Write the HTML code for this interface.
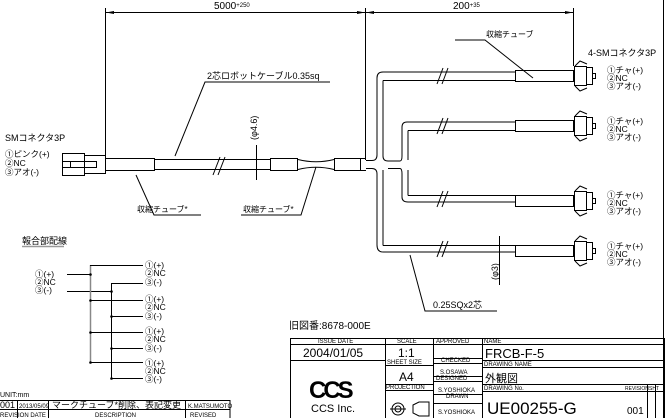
<!DOCTYPE html>
<html><head><meta charset="utf-8"><style>
html,body{margin:0;padding:0;background:#fff;}
svg{display:block;font-family:"Liberation Sans","Noto Sans CJK JP",sans-serif;}
</style></head><body>
<svg width="665" height="418" viewBox="0 0 665 418" xmlns="http://www.w3.org/2000/svg">
<g stroke="#000" stroke-width="1" fill="none">
<line x1="663.5" y1="0" x2="663.5" y2="418"/>
<line x1="105.5" y1="12.5" x2="365" y2="12.5"/>
<line x1="365" y1="12.5" x2="574" y2="12.5"/>
<line x1="105.5" y1="8" x2="105.5" y2="160"/>
<line x1="365.5" y1="8" x2="365.5" y2="160"/>
<line x1="573.5" y1="8" x2="573.5" y2="66"/>
<rect x="62.5" y="153.5" width="22" height="22"/>
<rect x="84.5" y="155.5" width="21" height="18"/>
<rect x="70.5" y="161.5" width="26" height="6"/>
<line x1="62" y1="161.5" x2="70" y2="161.5"/><line x1="62" y1="167.5" x2="70" y2="167.5"/>
<rect x="105.5" y="158.5" width="49" height="12"/>
<line x1="155" y1="159.5" x2="270" y2="159.5"/>
<line x1="155" y1="169.5" x2="270" y2="169.5"/>
<rect x="270.5" y="158.5" width="27" height="12"/>
<path d="M298 159.5 Q316 164 334 159.5 M298 169.5 Q316 165 334 169.5"/>
<path d="M334.5 158.5 L360.5 158.5 L360.5 170.5 L334.5 170.5 Z"/>
<path d="M360.5 158.5 L366 158.5 M360.5 170.5 L366 170.5"/>
<line x1="220" y1="157" x2="213" y2="175"/><line x1="225" y1="157" x2="218" y2="175"/>
<line x1="256.5" y1="145" x2="256.5" y2="180"/>
<path d="M366 160.5 L372 160.5 Q377 160.5 377 155 L377 78 Q377 72 383 72 L515 72"/>
<path d="M383 80.5 L515 80.5"/>
<path d="M383 80.5 L383 156 Q383 161 388 161 L400 161 Q402 161 402 156 L402 127 Q402 122 407 122 L515 122"/>
<path d="M408 130.5 L515 130.5 M408 130.5 L408 160"/>
<path d="M366 168.5 L372 168.5 Q377 168.5 377 174 L377 245 Q377 252 383 252 L515 252"/>
<path d="M383 245.5 L515 245.5 M383 245.5 L383 170"/>
<path d="M388 168.5 L400 168.5 Q402 168.5 402 174 L402 197 Q402 202 408 202 L515 202"/>
<path d="M408 195.5 L515 195.5 M408 195.5 L408 170"/>
<line x1="443" y1="68" x2="437" y2="84"/><line x1="448" y1="68" x2="442" y2="84"/>
<line x1="443" y1="118" x2="437" y2="134"/><line x1="448" y1="118" x2="442" y2="134"/>
<line x1="443" y1="191" x2="437" y2="207"/><line x1="448" y1="191" x2="442" y2="207"/>
<line x1="443" y1="241" x2="437" y2="257"/><line x1="448" y1="241" x2="442" y2="257"/>
<g id="c">
<rect x="515.5" y="70.5" width="58" height="11"/>
<rect x="574.5" y="66.5" width="12" height="19"/>
<rect x="586.5" y="67.5" width="6" height="17"/>
<rect x="592.5" y="73.5" width="3" height="5"/>
<path d="M575 66 L580 61 L587 64 M575 86 L580 91 L587 88"/>
</g>
<use href="#c" y="50"/><use href="#c" y="125"/><use href="#c" y="175"/>
<line x1="499.5" y1="236" x2="499.5" y2="285"/>
<path d="M136 175 L154 215 L201 215"/>
<path d="M316 167 L301 215 L241 215"/>
<path d="M533 78 L485 40 L455 40"/>
<path d="M410 255 L425 311 L497 311"/>
<path d="M175 156 L205 82 L330 82"/>
<line x1="22" y1="246.5" x2="64" y2="246.5" stroke="#999" stroke-width="1.5"/>
<line x1="67" y1="274.5" x2="90" y2="274.5"/>
<line x1="67" y1="291.5" x2="111" y2="291.5"/>
<line x1="90.5" y1="265" x2="90.5" y2="362" stroke="#888" stroke-width="1.5"/>
<line x1="111.5" y1="283" x2="111.5" y2="378"/>
<path d="M90 265.5 H143 M111 283.5 H143 M90 300.5 H143 M111 316.5 H143 M90 332.5 H143 M111 348.5 H143 M90 362.5 H143 M111 378.5 H143"/>
<rect x="-1" y="400.5" width="231" height="20"/>
<line x1="0" y1="409.5" x2="230" y2="409.5"/>
<line x1="17.5" y1="400" x2="17.5" y2="418"/>
<line x1="48.5" y1="400" x2="48.5" y2="418"/>
<line x1="185.5" y1="400" x2="185.5" y2="418"/>
<rect x="290.5" y="338.5" width="374" height="81"/>
<line x1="290" y1="344.5" x2="664" y2="344.5"/>
<line x1="290" y1="360.5" x2="385" y2="360.5"/>
<line x1="385.5" y1="338" x2="385.5" y2="418"/>
<line x1="433.5" y1="338" x2="433.5" y2="418"/>
<line x1="482.5" y1="338" x2="482.5" y2="418"/>
<line x1="385" y1="365.5" x2="433" y2="365.5"/>
<line x1="385" y1="384.5" x2="433" y2="384.5"/>
<line x1="385" y1="390.5" x2="433" y2="390.5"/>
<line x1="433" y1="358.5" x2="482" y2="358.5"/>
<line x1="433" y1="363.5" x2="482" y2="363.5"/>
<line x1="433" y1="376.5" x2="482" y2="376.5"/>
<line x1="433" y1="381.5" x2="482" y2="381.5"/>
<line x1="433" y1="394.5" x2="482" y2="394.5"/>
<line x1="433" y1="403.5" x2="482" y2="403.5"/>
<line x1="482" y1="360.5" x2="664" y2="360.5"/>
<line x1="482" y1="367.5" x2="664" y2="367.5"/>
<line x1="482" y1="384.5" x2="664" y2="384.5"/>
<line x1="482" y1="391.5" x2="664" y2="391.5"/>
<line x1="647.5" y1="384" x2="647.5" y2="418"/>
<line x1="655.5" y1="384" x2="655.5" y2="418"/>
<circle cx="398" cy="409" r="6"/><circle cx="398" cy="409" r="3"/>
<line x1="390" y1="409" x2="406" y2="409"/>
<path d="M413 405 L419 402 L429 402 L429 416 L419 416 L413 413 Z"/>
</g>
<g fill="#000">
<path d="M106 12.5 L114 11 L114 14 Z"/><path d="M365 12.5 L357 11 L357 14 Z"/>
<path d="M366 12.5 L374 11 L374 14 Z"/><path d="M573 12.5 L565 11 L565 14 Z"/>
<circle cx="90.5" cy="274.5" r="1.3"/><circle cx="111.5" cy="291.5" r="1.3"/>
<circle cx="90.5" cy="300.5" r="1.3"/><circle cx="111.5" cy="316.5" r="1.3"/>
<circle cx="90.5" cy="332.5" r="1.3"/><circle cx="111.5" cy="348.5" r="1.3"/>
<circle cx="90.5" cy="362.5" r="1.3"/><circle cx="111.5" cy="378.5" r="1.3"/>
</g>
<g font-size="10" fill="#000">
<text x="214" y="9">5000<tspan font-size="6" dy="-2">+250</tspan></text>
<text x="453" y="9">200<tspan font-size="6" dy="-2">+35</tspan></text>
<text x="207" y="79" font-size="9">2芯ロボットケーブル0.35sq</text>
<text x="257" y="140" font-size="9" transform="rotate(-90 257 140)">(φ4.6)</text>
<text x="5" y="141" font-size="9">SMコネクタ3P</text>
<text x="5" y="157" font-size="8.5">①ピンク(+)</text>
<text x="5" y="166" font-size="8.5">②NC</text>
<text x="5" y="175" font-size="8.5">③アオ(-)</text>
<text x="137" y="212" font-size="8">収縮チューブ*</text>
<text x="243" y="212" font-size="8">収縮チューブ*</text>
<text x="486" y="37" font-size="8">収縮チューブ</text>
<text x="588" y="56" font-size="9">4-SMコネクタ3P</text>
<text x="498" y="280" font-size="9" transform="rotate(-90 498 280)">(φ3)</text>
<text x="433" y="308" font-size="9">0.25SQx2芯</text>
<g font-size="8.5">
<text x="607" y="73">①チャ(+)</text><text x="607" y="81">②NC</text><text x="607" y="89">③アオ(-)</text>
<text x="607" y="124">①チャ(+)</text><text x="607" y="132">②NC</text><text x="607" y="140">③アオ(-)</text>
<text x="607" y="198">①チャ(+)</text><text x="607" y="206">②NC</text><text x="607" y="214">③アオ(-)</text>
<text x="607" y="249">①チャ(+)</text><text x="607" y="257">②NC</text><text x="607" y="265">③アオ(-)</text>
</g>
<text x="22" y="244" font-size="9">報合部配線</text>
<g font-size="8.5">
<text x="35" y="277">①(+)</text><text x="35" y="285">②NC</text><text x="35" y="293">③(-)</text>
<text x="145" y="268">①(+)</text><text x="145" y="276">②NC</text><text x="145" y="285">③(-)</text>
<text x="145" y="302">①(+)</text><text x="145" y="310">②NC</text><text x="145" y="319">③(-)</text>
<text x="145" y="334">①(+)</text><text x="145" y="342">②NC</text><text x="145" y="351">③(-)</text>
<text x="145" y="366">①(+)</text><text x="145" y="374">②NC</text><text x="145" y="382">③(-)</text>
</g>
<text x="0" y="397" font-size="7">UNIT:mm</text>
<text x="0" y="408" font-size="9">001</text>
<text x="19" y="408" font-size="6">2013/05/09</text>
<text x="52" y="408" font-size="9">マークチューブ*削除、表記変更</text>
<text x="188" y="408" font-size="6">K.MATSUMOTO</text>
<text x="0" y="417" font-size="6">REVISION DATE</text>
<text x="95" y="417" font-size="6">DESCRIPTION</text>
<text x="190" y="417" font-size="6">REVISED</text>
<text x="289" y="329" font-size="10">旧図番:8678-000E</text>
<g font-size="6">
<text x="318" y="343">ISSUE DATE</text>
<text x="397" y="343">SCALE</text>
<text x="436" y="343">APPROVED</text>
<text x="484" y="343">NAME</text>
<text x="387" y="364">SHEET SIZE</text>
<text x="441" y="362">CHECKED</text>
<text x="484" y="366">DRAWING  NAME</text>
<text x="436" y="380">DESIGNED</text>
<text x="386" y="389">PROJECTION</text>
<text x="484" y="390">DRAWING No.</text>
<text x="446" y="398">DRAWN</text>
<text x="625" y="390" font-size="5">REVISION</text>
<text x="649" y="390" font-size="5">SHT</text>
<text x="440" y="374">S.OSAWA</text>
<text x="438" y="392">S.YOSHIOKA</text>
<text x="438" y="414">S.YOSHIOKA</text>
</g>
<text x="303" y="357" font-size="12">2004/01/05</text>
<text x="398" y="357" font-size="12">1:1</text>
<text x="485" y="358" font-size="13">FRCB-F-5</text>
<text x="399" y="381" font-size="12">A4</text>
<text x="485" y="382" font-size="11">外観図</text>
<text x="487" y="414" font-size="17">UE00255-G</text>
<text x="627" y="414" font-size="10">001</text>
<text x="311" y="412" font-size="11">CCS Inc.</text>
<text x="309" y="398" font-size="24" font-weight="bold" letter-spacing="-3">CCS</text>
</g>
</svg>
</body></html>
